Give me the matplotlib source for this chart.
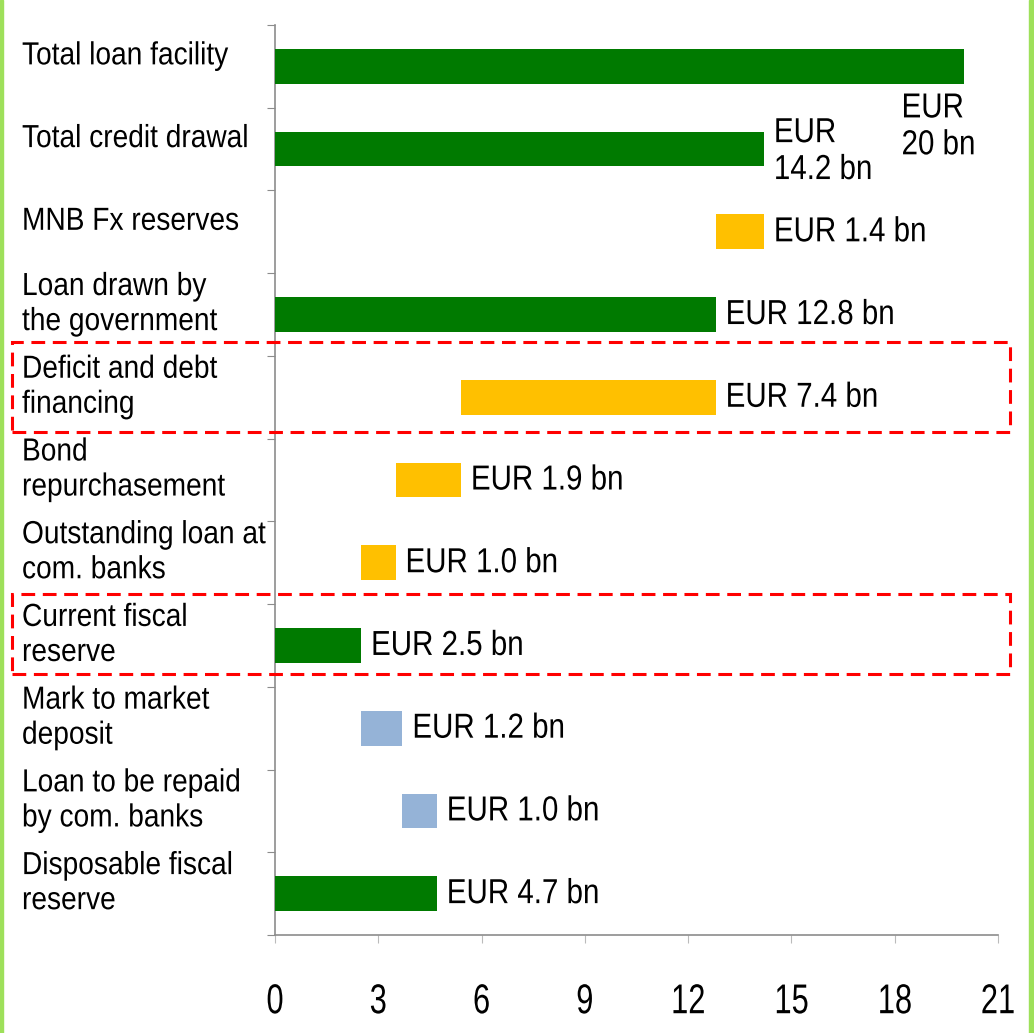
import matplotlib
matplotlib.use("Agg")
import matplotlib.pyplot as plt
from matplotlib.patches import Rectangle
from matplotlib.patheffects import AbstractPathEffect
from matplotlib.transforms import Affine2D

plt.rcParams['font.family'] = ["Liberation Sans", "DejaVu Sans"]

categories = ["Total loan facility", "Total credit drawal", "MNB Fx reserves",
              "Loan drawn by\nthe government", "Deficit and debt\nfinancing",
              "Bond\nrepurchasement", "Outstanding loan at\ncom. banks",
              "Current fiscal\nreserve", "Mark to market\ndeposit",
              "Loan to be repaid\nby com. banks", "Disposable fiscal\nreserve"]
starts = [0, 0, 12.8, 0, 5.4, 3.5, 2.5, 0, 2.5, 3.7, 0]
widths = [20, 14.2, 1.4, 12.8, 7.4, 1.9, 1.0, 2.5, 1.2, 1.0, 4.7]
kinds = ["g", "g", "o", "g", "o", "o", "o", "g", "b", "b", "g"]
value_labels = ["EUR\n20 bn", "EUR\n14.2 bn", "EUR 1.4 bn", "EUR 12.8 bn", "EUR 7.4 bn",
                "EUR 1.9 bn", "EUR 1.0 bn", "EUR 2.5 bn", "EUR 1.2 bn", "EUR 1.0 bn",
                "EUR 4.7 bn"]
xticks = [0, 3, 6, 9, 12, 15, 18, 21]

colors = {"g": "#007A00", "o": "#FFC000", "b": "#95B3D7"}


class HScale(AbstractPathEffect):
    """Draw text horizontally condensed (narrow font look)."""
    def __init__(self, sx, center=False):
        super().__init__()
        self.sx = sx
        self.center = center

    def draw_path(self, renderer, gc, tpath, affine, rgbFace=None):
        if self.center:
            ext = tpath.get_extents()
            cx = (ext.x0 + ext.x1) / 2
            pre = Affine2D().translate(-cx, 0).scale(self.sx, 1).translate(cx, 0)
        else:
            pre = Affine2D().scale(self.sx, 1)
        renderer.draw_path(gc, tpath, pre + affine, rgbFace)


W, H = 1034, 1033
fig = plt.figure(figsize=(W / 100, H / 100), dpi=100)
ax = fig.add_axes([275 / W, (H - 935) / H, (998 - 275) / W, (935 - 25) / H])

n = len(categories)
ypos = list(range(n))
ax.barh(ypos, widths, left=starts, height=0.42,
        color=[colors[k] for k in kinds], edgecolor="none", zorder=3)
ax.set_xlim(0, 21)
ax.set_ylim(n - 0.5, -0.5)

for s in ["top", "right"]:
    ax.spines[s].set_visible(False)
for s in ["left", "bottom"]:
    ax.spines[s].set_color("#8C8C8C")
    ax.spines[s].set_linewidth(1.2)

ax.set_xticks(xticks)
ax.set_xticklabels([str(t) for t in xticks], fontsize=30)
ax.tick_params(axis="x", length=6, color="#BBBBBB", pad=28, direction="out")
for t in ax.get_xticklabels():
    t.set_path_effects([HScale(0.74, center=True)])
ax.set_yticks([i - 0.5 for i in range(n + 1)])
ax.set_yticklabels([])
ax.tick_params(axis="y", length=6, color="#8C8C8C", direction="out")

# category labels
for i, lab in enumerate(categories):
    ax.annotate(lab, xy=(0, i), xycoords=("figure fraction", "data"),
                xytext=(22, 10), textcoords="offset pixels",
                ha="left", va="center", fontsize=23, linespacing=1.22,
                path_effects=[HScale(0.88)])

# value labels
for i, (s, w, lab) in enumerate(zip(starts, widths, value_labels)):
    end = s + w
    if i == 0:
        ax.annotate(lab, xy=(end, i), xytext=(-62, -60), textcoords="offset pixels",
                    ha="left", va="center", fontsize=25, linespacing=1.15,
                    path_effects=[HScale(0.85)])
    elif i == 1:
        ax.annotate(lab, xy=(end, i), xytext=(10, -2), textcoords="offset pixels",
                    ha="left", va="center", fontsize=25, linespacing=1.15,
                    path_effects=[HScale(0.85)])
    else:
        ax.annotate(lab, xy=(end, i), xytext=(10, 0), textcoords="offset pixels",
                    ha="left", va="center", fontsize=25,
                    path_effects=[HScale(0.85)])

# red dashed boxes
for (y0, y1) in [(342, 432), (594, 674)]:
    fig.patches.append(Rectangle((12 / W, (H - y1) / H), (1010 - 12) / W, (y1 - y0) / H,
                                 transform=fig.transFigure, fill=False,
                                 edgecolor="#FF0000", linewidth=2.2,
                                 linestyle=(0, (4.5, 2.5)), zorder=10))

# green side borders
fig.patches.append(Rectangle((0, 0), 3 / W, 1, transform=fig.transFigure,
                             color="#9EE05A", zorder=10))
fig.patches.append(Rectangle((1029 / W, 0), 5 / W, 1, transform=fig.transFigure,
                             color="#9EE05A", zorder=10))

fig.savefig("out.png", dpi=100)
